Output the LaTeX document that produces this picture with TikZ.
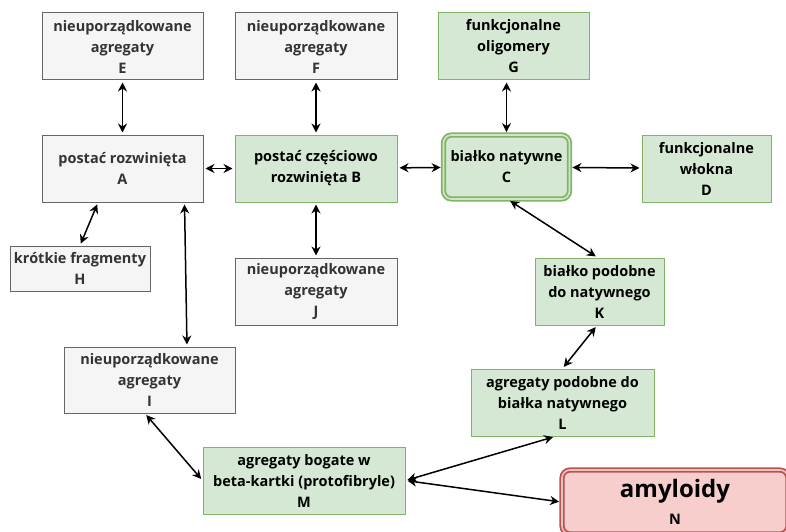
\documentclass[tikz,border=0pt]{standalone}
\usepackage{fontspec}
\setmainfont{Open Sans}
\usepackage{tikz}
\usetikzlibrary{arrows.meta}
\definecolor{fillgrey}{HTML}{F5F5F5}
\definecolor{drawgrey}{HTML}{666666}
\definecolor{textgrey}{HTML}{333333}
\definecolor{fillgreen}{HTML}{D5E8D4}
\definecolor{drawgreen}{HTML}{82B366}
\definecolor{fillred}{HTML}{F8CECC}
\definecolor{drawred}{HTML}{B85450}
\tikzset{
  stan/.style={rectangle, align=center, line width=1pt, inner sep=2pt,
    font=\bfseries\fontsize{14.5}{21}\selectfont},
  greybox/.style={stan, draw=drawgrey, fill=fillgrey, text=textgrey},
  greenbox/.style={stan, draw=drawgreen, fill=fillgreen, text=black},
  nativebox/.style={greenbox, rounded corners=8pt, line width=1.8pt,
    double=drawgreen!35!white, double distance=1.6pt},
  amyloidbox/.style={stan, draw=drawred, fill=fillred, text=black, rounded corners=8pt,
    line width=1.8pt, double=drawred!35!white, double distance=1.6pt},
  conn/.style={line width=1.5pt, {Stealth[length=9pt,width=9pt]}-{Stealth[length=9pt,width=9pt]},
    shorten <=2pt, shorten >=2pt}
}

\begin{document}
\begin{tikzpicture}[x=1pt,y=-1pt]
  \useasboundingbox (0,0) rectangle (786,532);
  % upper row
  \node[greybox, minimum width=161pt, minimum height=67pt] (E) at (122.5,46.5) {nieuporządkowane\\agregaty\\E};
  \node[greybox, minimum width=162pt, minimum height=67pt] (F) at (316,46.5) {nieuporządkowane\\agregaty\\F};
  \node[greenbox, minimum width=151pt, minimum height=67pt] (G) at (513.5,46.5) {funkcjonalne\\oligomery\\G};
  % middle row
  \node[greybox, minimum width=161pt, minimum height=67pt] (A) at (122.5,168.5) {postać rozwinięta\\A};
  \node[greenbox, minimum width=162pt, minimum height=67pt] (B) at (316,168.5) {postać częściowo\\rozwinięta B};
  \node[nativebox, minimum width=126pt, minimum height=64pt] (C) at (506.5,167) {białko natywne\\C};
  \node[greenbox, minimum width=129pt, minimum height=67pt] (D) at (706.5,168.5) {funkcjonalne\\włokna\\D};
  % lower part
  \node[greybox, minimum width=140pt, minimum height=45pt] (H) at (80,268.5) {krótkie fragmenty\\H};
  \node[greybox, minimum width=162pt, minimum height=67pt] (J) at (316,291.5) {nieuporządkowane\\agregaty\\J};
  \node[greenbox, minimum width=129pt, minimum height=67pt] (K) at (599.5,291.5) {białko podobne\\do natywnego\\K};
  \node[greybox, minimum width=171pt, minimum height=66pt] (I) at (149.5,380) {nieuporządkowane\\agregaty\\I};
  \node[greenbox, minimum width=183pt, minimum height=67pt] (L) at (562.5,402.5) {agregaty podobne do\\białka natywnego\\L};
  \node[greenbox, minimum width=202pt, minimum height=67pt] (M) at (304,480.5) {agregaty bogate w\\beta-kartki (protofibryle)\\M};
  \node[amyloidbox, minimum width=226pt, minimum height=64pt] (N) at (675,502)
    {{\fontsize{24}{28}\selectfont amyloidy}\\[6pt]N};
  \path[conn]
    (E) edge (A)
    (F) edge (B)
    (G.south -| C.north) edge (C)
    (A) edge (B)
    (B) edge (C)
    (C) edge (D)
    ([xshift=-24.5pt]A.south) edge (H.north)
    ([xshift=62pt]A.south) edge ([xshift=37.5pt]I.north)
    (B) edge (J)
    ([xshift=2pt]C.south) edge ([xshift=-2pt]K.north)
    ([xshift=-2.5pt]K.south) edge (L.north)
    ([xshift=-4.5pt]I.south) edge (M.west)
    (M.east) edge ([xshift=-7.5pt]L.south)
    (M.east) edge (N.west);
\end{tikzpicture}
\end{document}
